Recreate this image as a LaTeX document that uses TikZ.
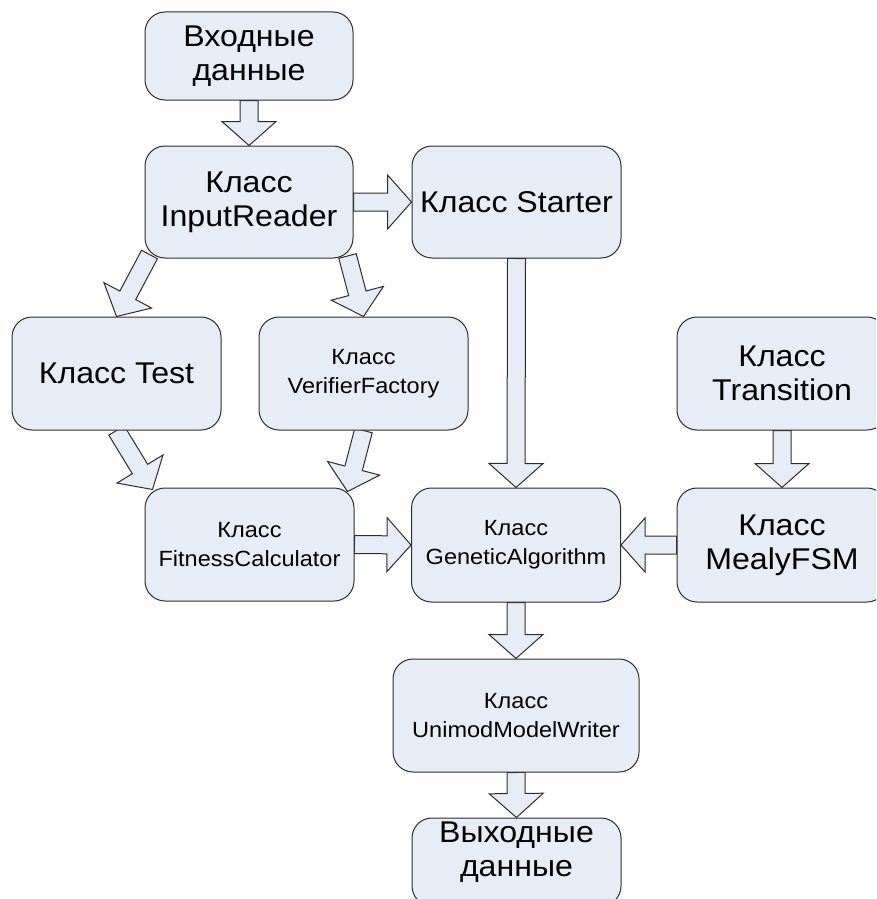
\documentclass[tikz,border=0pt]{standalone}
\usepackage{fontspec}
\newfontfamily\diagfont[FakeStretch=1.07]{Liberation Sans}
\usetikzlibrary{calc,backgrounds}

\definecolor{boxfill}{RGB}{230,237,247}
\definecolor{boxline}{RGB}{45,45,45}

% Block arrow (wide shaft with a triangular head) from #1 to #2
\newcommand\blockarrow[2]{%
  \draw[flowarrow] let \p1=(#1), \p2=(#2),
    \n1={atan2(\y2-\y1,\x2-\x1)},
    \n2={veclen(\x2-\x1,\y2-\y1)-24pt} in
    ($(\p1)+({\n1+90}:9pt)$)
    -- ($(\p1)+(\n1:\n2)+({\n1+90}:9pt)$)
    -- ($(\p1)+(\n1:\n2)+({\n1+90}:27pt)$)
    -- (\p2)
    -- ($(\p1)+(\n1:\n2)+({\n1-90}:27pt)$)
    -- ($(\p1)+(\n1:\n2)+({\n1-90}:9pt)$)
    -- ($(\p1)+({\n1-90}:9pt)$) -- cycle;}

\begin{document}
\begin{tikzpicture}[x=1pt,y=-1pt,
  classbox/.style={draw=boxline, fill=boxfill, line width=1pt,
    rounded corners=20pt, inner sep=0pt, align=center,
    minimum width=209pt, minimum height=113pt},
  bigtext/.style={font=\diagfont\fontsize{30}{34}\selectfont},
  smalltext/.style={font=\diagfont\fontsize{22}{29}\selectfont},
  flowarrow/.style={draw=boxline, fill=boxfill, line width=1pt, line join=miter}]

\useasboundingbox (0,0) rectangle (876,899);
\clip (0,0) rectangle (876,899);

% class boxes
\node[classbox, bigtext, minimum height=88pt, minimum width=208pt] (in) at (249,56) {Входные\\данные};
\node[classbox, bigtext, minimum width=208pt, minimum height=112pt] (ir) at (249,202) {Класс\\InputReader};
\node[classbox, bigtext, minimum height=112pt] (st) at (516.5,202) {Класс Starter};
\node[classbox, bigtext] (test) at (116.5,373.5) {Класс Test};
\node[classbox, smalltext] (vf) at (363.5,373.5) {Класс\\VerifierFactory};
\node[classbox, bigtext, minimum width=210pt] (tr) at (782,373.5) {Класс\\Transition};
\node[classbox, smalltext] (fc) at (249.5,544.5) {Класс\\FitnessCalculator};
\node[classbox, smalltext, minimum height=114pt] (ga) at (516,545) {Класс\\GeneticAlgorithm};
\node[classbox, bigtext, minimum width=210pt, minimum height=114pt] (mealy) at (782,545) {Класс\\MealyFSM};
\node[classbox, smalltext, minimum width=246pt] (umw) at (516,715.5) {Класс\\UnimodModelWriter};
\node[classbox, minimum height=88pt] (out) at (516.5,862) {};
\node[bigtext, align=center, anchor=north, inner sep=0pt] (outlbl) at ($(out.north)+(0,4)$) {Выходные\\данные};

% end points of the slanted arrows
\coordinate (irL) at ($(ir.south west)+(5,-4)$);
\coordinate (irR) at ($(ir.south east)+(-6,-2.5)$);
\coordinate (fcL) at ($(fc.north west)+(8,2)$);
\coordinate (fcR) at ($(fc.north east)+(-7,4)$);

\begin{pgfonlayer}{background}
  \blockarrow{in.south}{ir.north}
  \blockarrow{ir.east}{st.west}
  \blockarrow{irL}{test.north}
  \blockarrow{irR}{vf.north}
  \blockarrow{test.south}{fcL}
  \blockarrow{vf.south}{fcR}
  \blockarrow{st.south}{ga.north}
  \blockarrow{tr.south}{mealy.north}
  \blockarrow{fc.east}{ga.west}
  \blockarrow{mealy.west}{ga.east}
  \blockarrow{ga.south}{umw.north}
  \blockarrow{umw.south}{out.north}
\end{pgfonlayer}
\end{tikzpicture}
\end{document}
